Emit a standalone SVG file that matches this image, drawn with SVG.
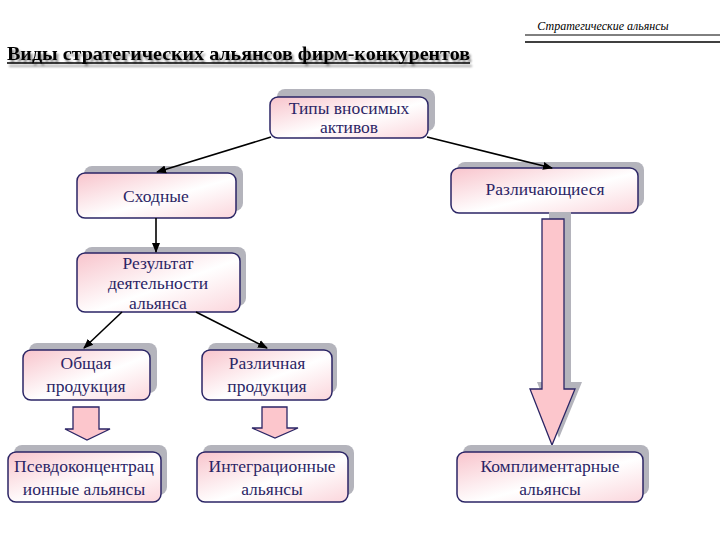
<svg xmlns="http://www.w3.org/2000/svg" width="720" height="540" viewBox="0 0 720 540">
<defs>
<linearGradient id="g" x1="0" y1="0" x2="1" y2="1">
<stop offset="0" stop-color="#f8c4cc"/>
<stop offset="0.55" stop-color="#ffffff"/>
<stop offset="1" stop-color="#fbd6dc"/>
</linearGradient>
<marker id="ah" viewBox="0 0 10 10" refX="9" refY="5" markerWidth="10" markerHeight="10" markerUnits="userSpaceOnUse" orient="auto">
<path d="M0,1 L10,5 L0,9 z" fill="#000"/>
</marker>
<filter id="ds" x="-5%" y="-30%" width="110%" height="180%">
<feGaussianBlur in="SourceAlpha" stdDeviation="1.2"/>
<feOffset dx="2" dy="3" result="b"/>
<feComponentTransfer><feFuncA type="linear" slope="0.45"/></feComponentTransfer>
<feMerge><feMergeNode/><feMergeNode in="SourceGraphic"/></feMerge>
</filter>
<style>
.sh{fill:#b4b4bc;}
.bx{fill:url(#g);stroke:#2b2565;stroke-width:1.5;}
.t{font-size:17.5px;fill:#2b2565;text-anchor:middle;}
.ar{fill:#fcc6cc;stroke:#2b2565;stroke-width:1.3;}
.c{stroke:#000;stroke-width:1.6;fill:none;}
</style>
</defs>
<rect width="720" height="540" fill="#fff"/>

<g id="header">
<text x="603" y="30" font-family="Liberation Serif, DejaVu Serif, serif" font-style="italic" font-size="12" fill="#000" text-anchor="middle">Стратегические альянсы</text>
<line x1="525" y1="35" x2="720" y2="35" stroke="#000" stroke-width="1"/>
<line x1="525" y1="42" x2="720" y2="42" stroke="#000" stroke-width="1.3"/>
</g>

<g id="title" filter="url(#ds)">
<text x="7" y="60" font-family="Liberation Serif, DejaVu Serif, serif" font-weight="bold" font-size="19" fill="#000" textLength="463" lengthAdjust="spacingAndGlyphs">Виды стратегических альянсов фирм-конкурентов</text>
<line x1="7" y1="63" x2="470" y2="63" stroke="#000" stroke-width="1.3"/>
</g>

<g font-family="Liberation Serif, DejaVu Serif, serif">
<g id="n-types">
<rect class="sh" x="277" y="89" width="158" height="42" rx="8"/>
<rect class="bx" x="270" y="97" width="158" height="41" rx="8"/>
<text class="t" x="349" y="114">Типы вносимых</text>
<text class="t" x="349" y="133">активов</text>
</g>

<g id="n-similar">
<rect class="sh" x="84" y="166" width="159" height="45" rx="8"/>
<rect class="bx" x="77" y="173" width="159" height="45" rx="8"/>
<text class="t" x="156" y="202">Сходные</text>
</g>

<g id="n-different">
<rect class="sh" x="457" y="162" width="187" height="45" rx="8"/>
<rect class="bx" x="451" y="168" width="187" height="45" rx="8"/>
<text class="t" x="545" y="195">Различающиеся</text>
</g>

<g id="big-arrow">
<path class="sh" d="M549,212 H571 V382 H582 L559,438 L537,382 H549 z"/>
<path class="ar" d="M542,219 H564 V389 H575 L552,445 L530,389 H542 z"/>
</g>

<g id="n-result">
<rect class="sh" x="84" y="247" width="162" height="59" rx="8"/>
<rect class="bx" x="77" y="253" width="163" height="59" rx="8"/>
<text class="t" x="158" y="269">Результат</text>
<text class="t" x="158" y="289">деятельности</text>
<text class="t" x="158" y="309">альянса</text>
</g>

<g id="n-common">
<rect class="sh" x="29" y="343" width="128" height="50" rx="8"/>
<rect class="bx" x="23" y="350" width="127" height="50" rx="8"/>
<text class="t" x="86" y="369">Общая</text>
<text class="t" x="86" y="392">продукция</text>
</g>

<g id="n-various">
<rect class="sh" x="208" y="343" width="129" height="50" rx="8"/>
<rect class="bx" x="202" y="350" width="130" height="50" rx="8"/>
<text class="t" x="267" y="369">Различная</text>
<text class="t" x="267" y="392">продукция</text>
</g>

<g id="arrow-common">
<path class="ar" d="M73,407 H99 V429 H110 L87,440 L65,429 H73 z"/>
</g>
<g id="arrow-various">
<path class="ar" d="M262,407 H287 V428 H298 L275,438 L252,428 H262 z"/>
</g>

<g id="n-pseudo">
<rect class="sh" x="14" y="445" width="153" height="50" rx="8"/>
<rect class="bx" x="8" y="452" width="153" height="50" rx="8"/>
<text class="t" x="84" y="472">Псевдоконцентрац</text>
<text class="t" x="84" y="495">ионные альянсы</text>
</g>

<g id="n-integration">
<rect class="sh" x="203" y="445" width="151" height="50" rx="8"/>
<rect class="bx" x="197" y="452" width="151" height="50" rx="8"/>
<text class="t" x="272" y="472">Интеграционные</text>
<text class="t" x="272" y="495">альянсы</text>
</g>

<g id="n-complementary">
<rect class="sh" x="463" y="445" width="186" height="50" rx="8"/>
<rect class="bx" x="457" y="452" width="186" height="50" rx="8"/>
<text class="t" x="550" y="472">Комплиментарные</text>
<text class="t" x="550" y="495">альянсы</text>
</g>
</g>

<g id="connectors">
<line class="c" x1="271" y1="137" x2="157" y2="172" marker-end="url(#ah)"/>
<line class="c" x1="427" y1="137" x2="552" y2="168" marker-end="url(#ah)"/>
<line class="c" x1="156" y1="218" x2="156" y2="252" marker-end="url(#ah)"/>
<line class="c" x1="122" y1="312" x2="84" y2="348" marker-end="url(#ah)"/>
<line class="c" x1="196" y1="312" x2="267" y2="348" marker-end="url(#ah)"/>
</g>
</svg>
